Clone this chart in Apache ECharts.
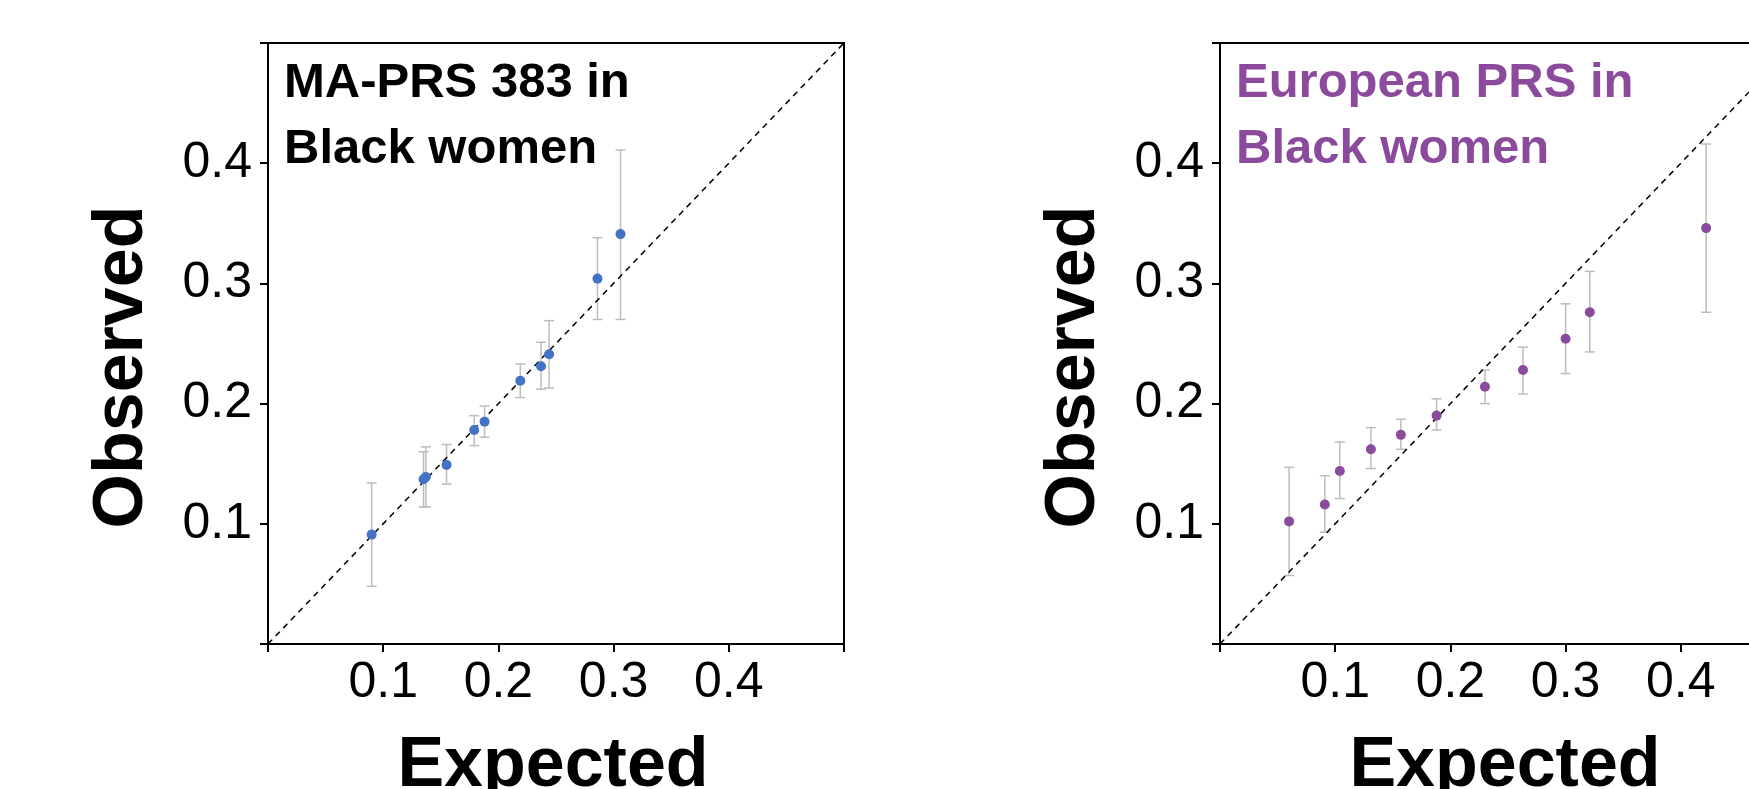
<!DOCTYPE html>
<html>
<head>
<meta charset="utf-8">
<script src="https://cdn.jsdelivr.net/npm/echarts@6/dist/echarts.min.js"></script>
<style>
html,body{margin:0;padding:0;background:#fff;}
#chart{width:1749px;height:789px;}
</style>
</head>
<body>
<div id="chart"></div>
<script>
// ---- Data ----
const axisTicks = [0, 0.1, 0.2, 0.3, 0.4, 0.5];

const maTitle = "MA-PRS 383 in\nBlack women";
const maExpected = [0.090, 0.135, 0.137, 0.155, 0.179, 0.188, 0.219, 0.237, 0.244, 0.286, 0.306];
const maObserved = [0.091, 0.137, 0.139, 0.149, 0.178, 0.185, 0.219, 0.231, 0.241, 0.304, 0.341];
const maLower    = [0.048, 0.114, 0.114, 0.133, 0.165, 0.172, 0.205, 0.212, 0.213, 0.270, 0.270];
const maUpper    = [0.134, 0.160, 0.164, 0.166, 0.190, 0.198, 0.233, 0.251, 0.269, 0.338, 0.411];

const euTitle = "European PRS in\nBlack women";
const euExpected = [0.060, 0.091, 0.104, 0.131, 0.157, 0.188, 0.230, 0.263, 0.300, 0.321, 0.422];
const euObserved = [0.102, 0.116, 0.144, 0.162, 0.174, 0.190, 0.214, 0.228, 0.254, 0.276, 0.346];
const euLower    = [0.057, 0.093, 0.121, 0.146, 0.162, 0.178, 0.200, 0.208, 0.225, 0.243, 0.276];
const euUpper    = [0.147, 0.140, 0.168, 0.180, 0.187, 0.204, 0.228, 0.247, 0.283, 0.310, 0.416];

const diagonal = [[0, 0], [0.5, 0.5]];

const xName = "Expected";
const yName = "Observed";

// ---- Styling ----
const FONT = "'Liberation Sans', Arial, sans-serif";
const BLUE = "#4472C4";
const PURPLE = "#8B4A9C";
const ERR = "#bdbdbd";

const chart = echarts.init(document.getElementById('chart'), null, {renderer: 'canvas'});

function fmt(v) {
  if (v < 0.05 || v > 0.45) return '';
  return v.toFixed(1);
}

function makeX(gi) {
  return {
    gridIndex: gi, type: 'value', min: axisTicks[0], max: axisTicks[axisTicks.length - 1], interval: 0.1,
    axisLine: {show: true, onZero: false, lineStyle: {color: '#000', width: 2}},
    axisTick: {show: true, inside: false, length: 8, lineStyle: {color: '#000', width: 2}},
    axisLabel: {formatter: fmt, fontSize: 50, fontFamily: FONT, color: '#000', margin: 14},
    splitLine: {show: false}
  };
}
function makeY(gi) {
  return {
    gridIndex: gi, type: 'value', min: axisTicks[0], max: axisTicks[axisTicks.length - 1], interval: 0.1,
    axisLine: {show: true, onZero: false, lineStyle: {color: '#000', width: 2}},
    axisTick: {show: true, inside: false, length: 8, lineStyle: {color: '#000', width: 2}},
    axisLabel: {formatter: fmt, fontSize: 50, fontFamily: FONT, color: '#000', margin: 16},
    splitLine: {show: false}
  };
}

function errSeries(gi, xs, lo, hi) {
  return {
    type: 'custom', xAxisIndex: gi, yAxisIndex: gi, z: 2, silent: true,
    data: xs.map((x, i) => [x, lo[i], hi[i]]),
    renderItem: function (params, api) {
      const x = api.value(0);
      const pLo = api.coord([x, api.value(1)]);
      const pHi = api.coord([x, api.value(2)]);
      const w = 5;
      const st = {stroke: ERR, lineWidth: 1.5};
      return {
        type: 'group',
        children: [
          {type: 'line', shape: {x1: pLo[0], y1: pLo[1], x2: pHi[0], y2: pHi[1]}, style: st},
          {type: 'line', shape: {x1: pLo[0] - w, y1: pLo[1], x2: pLo[0] + w, y2: pLo[1]}, style: st},
          {type: 'line', shape: {x1: pHi[0] - w, y1: pHi[1], x2: pHi[0] + w, y2: pHi[1]}, style: st}
        ]
      };
    }
  };
}

function diagSeries(gi) {
  return {
    type: 'line', xAxisIndex: gi, yAxisIndex: gi, data: diagonal, symbol: 'none', z: 3, silent: true,
    lineStyle: {color: '#000', width: 1.5, type: [6, 5]}
  };
}

function ptSeries(gi, xs, ys, color) {
  return {
    type: 'scatter', xAxisIndex: gi, yAxisIndex: gi, z: 4,
    data: xs.map((x, i) => [x, ys[i]]),
    symbolSize: 10, itemStyle: {color: color, opacity: 1}
  };
}

const option = {
  backgroundColor: '#fff',
  animation: false,
  title: [
    {text: maTitle, left: 284, top: 50, padding: 0,
     textStyle: {fontSize: 49, fontWeight: 'bold', fontFamily: FONT, color: '#000', lineHeight: 66}},
    {text: euTitle, left: 1236, top: 50, padding: 0,
     textStyle: {fontSize: 49, fontWeight: 'bold', fontFamily: FONT, color: PURPLE, lineHeight: 66}}
  ],
  grid: [
    {left: 268, top: 43, width: 576, height: 601, outerBoundsMode: 'none', containLabel: false,
     show: true, borderColor: '#000', borderWidth: 2, backgroundColor: 'transparent'},
    {left: 1220, top: 43, width: 576, height: 601, outerBoundsMode: 'none', containLabel: false,
     show: true, borderColor: '#000', borderWidth: 2, backgroundColor: 'transparent'}
  ],
  xAxis: [makeX(0), makeX(1)],
  yAxis: [makeY(0), makeY(1)],
  graphic: [
    {type: 'text', x: 123, y: 367, rotation: Math.PI / 2,
     style: {text: yName, font: 'bold 70px ' + FONT, fill: '#000', textAlign: 'center', textVerticalAlign: 'middle'}},
    {type: 'text', x: 1075, y: 367, rotation: Math.PI / 2,
     style: {text: yName, font: 'bold 70px ' + FONT, fill: '#000', textAlign: 'center', textVerticalAlign: 'middle'}},
    {type: 'text', x: 553, y: 767,
     style: {text: xName, font: 'bold 70px ' + FONT, fill: '#000', textAlign: 'center', textVerticalAlign: 'middle'}},
    {type: 'text', x: 1505, y: 767,
     style: {text: xName, font: 'bold 70px ' + FONT, fill: '#000', textAlign: 'center', textVerticalAlign: 'middle'}}
  ],
  series: [
    diagSeries(0), errSeries(0, maExpected, maLower, maUpper), ptSeries(0, maExpected, maObserved, BLUE),
    diagSeries(1), errSeries(1, euExpected, euLower, euUpper), ptSeries(1, euExpected, euObserved, PURPLE)
  ]
};
chart.setOption(option);
</script>
</body>
</html>
